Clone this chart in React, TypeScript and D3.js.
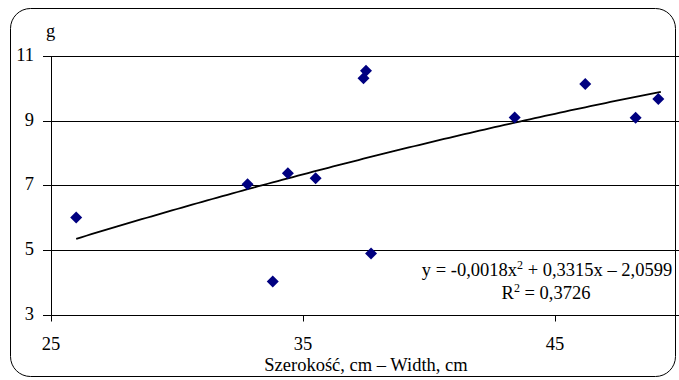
import React from "react";
import * as d3 from "d3";

const widthVals = [26.0, 32.8, 33.8, 34.4, 35.5, 37.5, 37.4, 37.7, 43.4, 46.2, 48.2, 49.1];
const gVals = [6.0, 7.03, 4.02, 7.37, 7.22, 10.54, 10.31, 4.89, 9.1, 10.13, 9.09, 9.67];
const trendCoef = [-0.0018, 0.3315, -2.0599];
const xTicks = [25, 35, 45];
const yTicks = [3, 5, 7, 9, 11];

const W = 679;
const H = 380;
const L = 51;
const R = 681;
const T = 56;
const B = 314.5;

export default function App() {
  const x = d3.scaleLinear().domain([25, 50]).range([L, R]);
  const y = d3.scaleLinear().domain([3, 11]).range([B, T]);
  const xs = d3.range(26, 49.2 + 1e-9, 0.2);
  const trend = xs.map((v) => [v, trendCoef[0] * v * v + trendCoef[1] * v + trendCoef[2]] as [number, number]);
  const line = d3.line<[number, number]>().x((d) => x(d[0])).y((d) => y(d[1]));
  const font = "Liberation Serif";
  const fs = 18.5;
  const sup = 12;
  const py = (t: number) => Math.round(y(t)) + 0.5;
  return (
    <svg width={W} height={H} style={{ position: "absolute", left: 0, top: 0, background: "#fff", fontFamily: font }}>
      <rect x={10.5} y={8.5} width={665} height={368} rx={20} fill="none" stroke="#000" strokeWidth={1} />
      {yTicks.map((t) => (
        <line key={t} x1={t === 3 ? L - 0.5 : L} x2={R} y1={py(t)} y2={py(t)} stroke="#000" />
      ))}
      <line x1={L + 0.5} x2={L + 0.5} y1={T} y2={py(3) + 0.5} stroke="#000" />
      {yTicks.map((t) => (
        <g key={t}>
          <line x1={L - 8} x2={L} y1={py(t)} y2={py(t)} stroke="#000" />
          <text x={34} y={y(t) + 5} textAnchor="end" fontSize={fs}>{t}</text>
        </g>
      ))}
      {xTicks.map((t) => (
        <g key={t}>
          <line x1={Math.round(x(t)) + 0.5} x2={Math.round(x(t)) + 0.5} y1={py(3)} y2={py(3) + 6} stroke="#000" />
          <text x={x(t)} y={349.5} textAnchor="middle" fontSize={fs}>{t}</text>
        </g>
      ))}
      <text x={46} y={37} fontSize={fs}>g</text>
      <text x={366} y={371} textAnchor="middle" fontSize={fs}>Szerokość, cm – Width, cm</text>
      <path d={line(trend) || ""} fill="none" stroke="#000" strokeWidth={1.8} />
      {widthVals.map((v, i) => {
        const cx = x(v);
        const cy = y(gVals[i]);
        const s = 6;
        return <path key={i} d={`M${cx},${cy - s}L${cx + s},${cy}L${cx},${cy + s}L${cx - s},${cy}Z`} fill="#000080" />;
      })}
      <text x={547} y={276} textAnchor="middle" fontSize={fs}>
        y = -0,0018x<tspan dy={-7} fontSize={sup}>2</tspan><tspan dy={7}> + 0,3315x – 2,0599</tspan>
      </text>
      <text x={546} y={299} textAnchor="middle" fontSize={fs}>
        R<tspan dy={-7} fontSize={sup}>2</tspan><tspan dy={7}> = 0,3726</tspan>
      </text>
    </svg>
  );
}
